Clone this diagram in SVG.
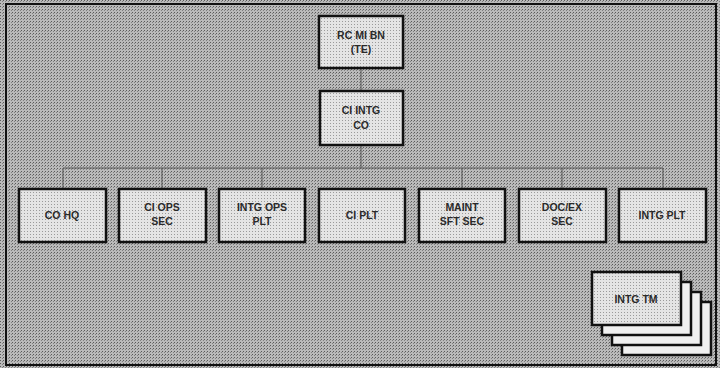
<svg xmlns="http://www.w3.org/2000/svg" width="720" height="368" viewBox="0 0 720 368">
<defs>
<pattern id="bg" width="3" height="3" patternUnits="userSpaceOnUse">
<rect width="3" height="3" fill="#bababa"/>
<rect width="1" height="1" fill="#5a5a5a"/>
<rect x="2" y="1" width="1" height="1" fill="#808080"/>
</pattern>
<pattern id="bx" width="3" height="3" patternUnits="userSpaceOnUse">
<rect width="3" height="3" fill="#e4e4e4"/>
<rect width="1" height="1" fill="#9a9a9a"/>
</pattern>
</defs>
<style>
.box{fill:url(#bx);stroke:#111;stroke-width:2.5}
.card{fill:#f0f0f0;stroke:#111;stroke-width:2.5}
.t{font-family:"Liberation Sans",Arial,sans-serif;font-size:10.5px;font-weight:bold;fill:#2a2a2a;text-anchor:middle}
.c{stroke:#555;stroke-width:1;fill:none}
</style>
<rect x="0" y="0" width="720" height="368" fill="url(#bg)"/>
<rect x="6" y="4" width="710" height="361" fill="none" stroke="#111" stroke-width="2"/>
<g id="connectors">
<line class="c" x1="361" y1="68" x2="361" y2="91"/>
<line class="c" x1="361" y1="145" x2="361" y2="168"/>
<line class="c" x1="63" y1="168" x2="663" y2="168"/>
<line class="c" x1="63" y1="168" x2="63" y2="189"/>
<line class="c" x1="162" y1="168" x2="162" y2="189"/>
<line class="c" x1="262" y1="168" x2="262" y2="189"/>
<line class="c" x1="462" y1="168" x2="462" y2="189"/>
<line class="c" x1="562" y1="168" x2="562" y2="189"/>
<line class="c" x1="663" y1="168" x2="663" y2="189"/>
</g>
<g id="rc-mi-bn">
<rect class="box" x="319" y="16" width="84" height="52"/>
<text class="t" x="361" y="39">RC MI BN</text>
<text class="t" x="361" y="53">(TE)</text>
</g>
<g id="ci-intg-co">
<rect class="box" x="320" y="91" width="83" height="54"/>
<text class="t" x="361" y="114">CI INTG</text>
<text class="t" x="361" y="129">CO</text>
</g>
<g id="co-hq">
<rect class="box" x="19" y="189" width="87" height="53"/>
<text class="t" x="62" y="219">CO HQ</text>
</g>
<g id="ci-ops-sec">
<rect class="box" x="119" y="189" width="87" height="53"/>
<text class="t" x="162" y="211">CI OPS</text>
<text class="t" x="162" y="225">SEC</text>
</g>
<g id="intg-ops-plt">
<rect class="box" x="219" y="189" width="86" height="53"/>
<text class="t" x="262" y="211">INTG OPS</text>
<text class="t" x="262" y="225">PLT</text>
</g>
<g id="ci-plt">
<rect class="box" x="319" y="189" width="86" height="53"/>
<text class="t" x="362" y="219">CI PLT</text>
</g>
<g id="maint-sft-sec">
<rect class="box" x="419" y="189" width="86" height="53"/>
<text class="t" x="462" y="211">MAINT</text>
<text class="t" x="462" y="225">SFT SEC</text>
</g>
<g id="docex-sec">
<rect class="box" x="519" y="189" width="87" height="53"/>
<text class="t" x="562" y="211">DOC/EX</text>
<text class="t" x="562" y="225">SEC</text>
</g>
<g id="intg-plt">
<rect class="box" x="619" y="189" width="87" height="53"/>
<text class="t" x="662" y="219">INTG PLT</text>
</g>
<g id="intg-tm">
<rect class="card" x="622" y="302" width="89" height="53"/>
<rect class="card" x="612" y="292" width="89" height="53"/>
<rect class="card" x="602" y="282" width="89" height="53"/>
<rect class="box" x="592" y="272" width="89" height="53"/>
<text class="t" x="636" y="303">INTG TM</text>
</g>
</svg>
